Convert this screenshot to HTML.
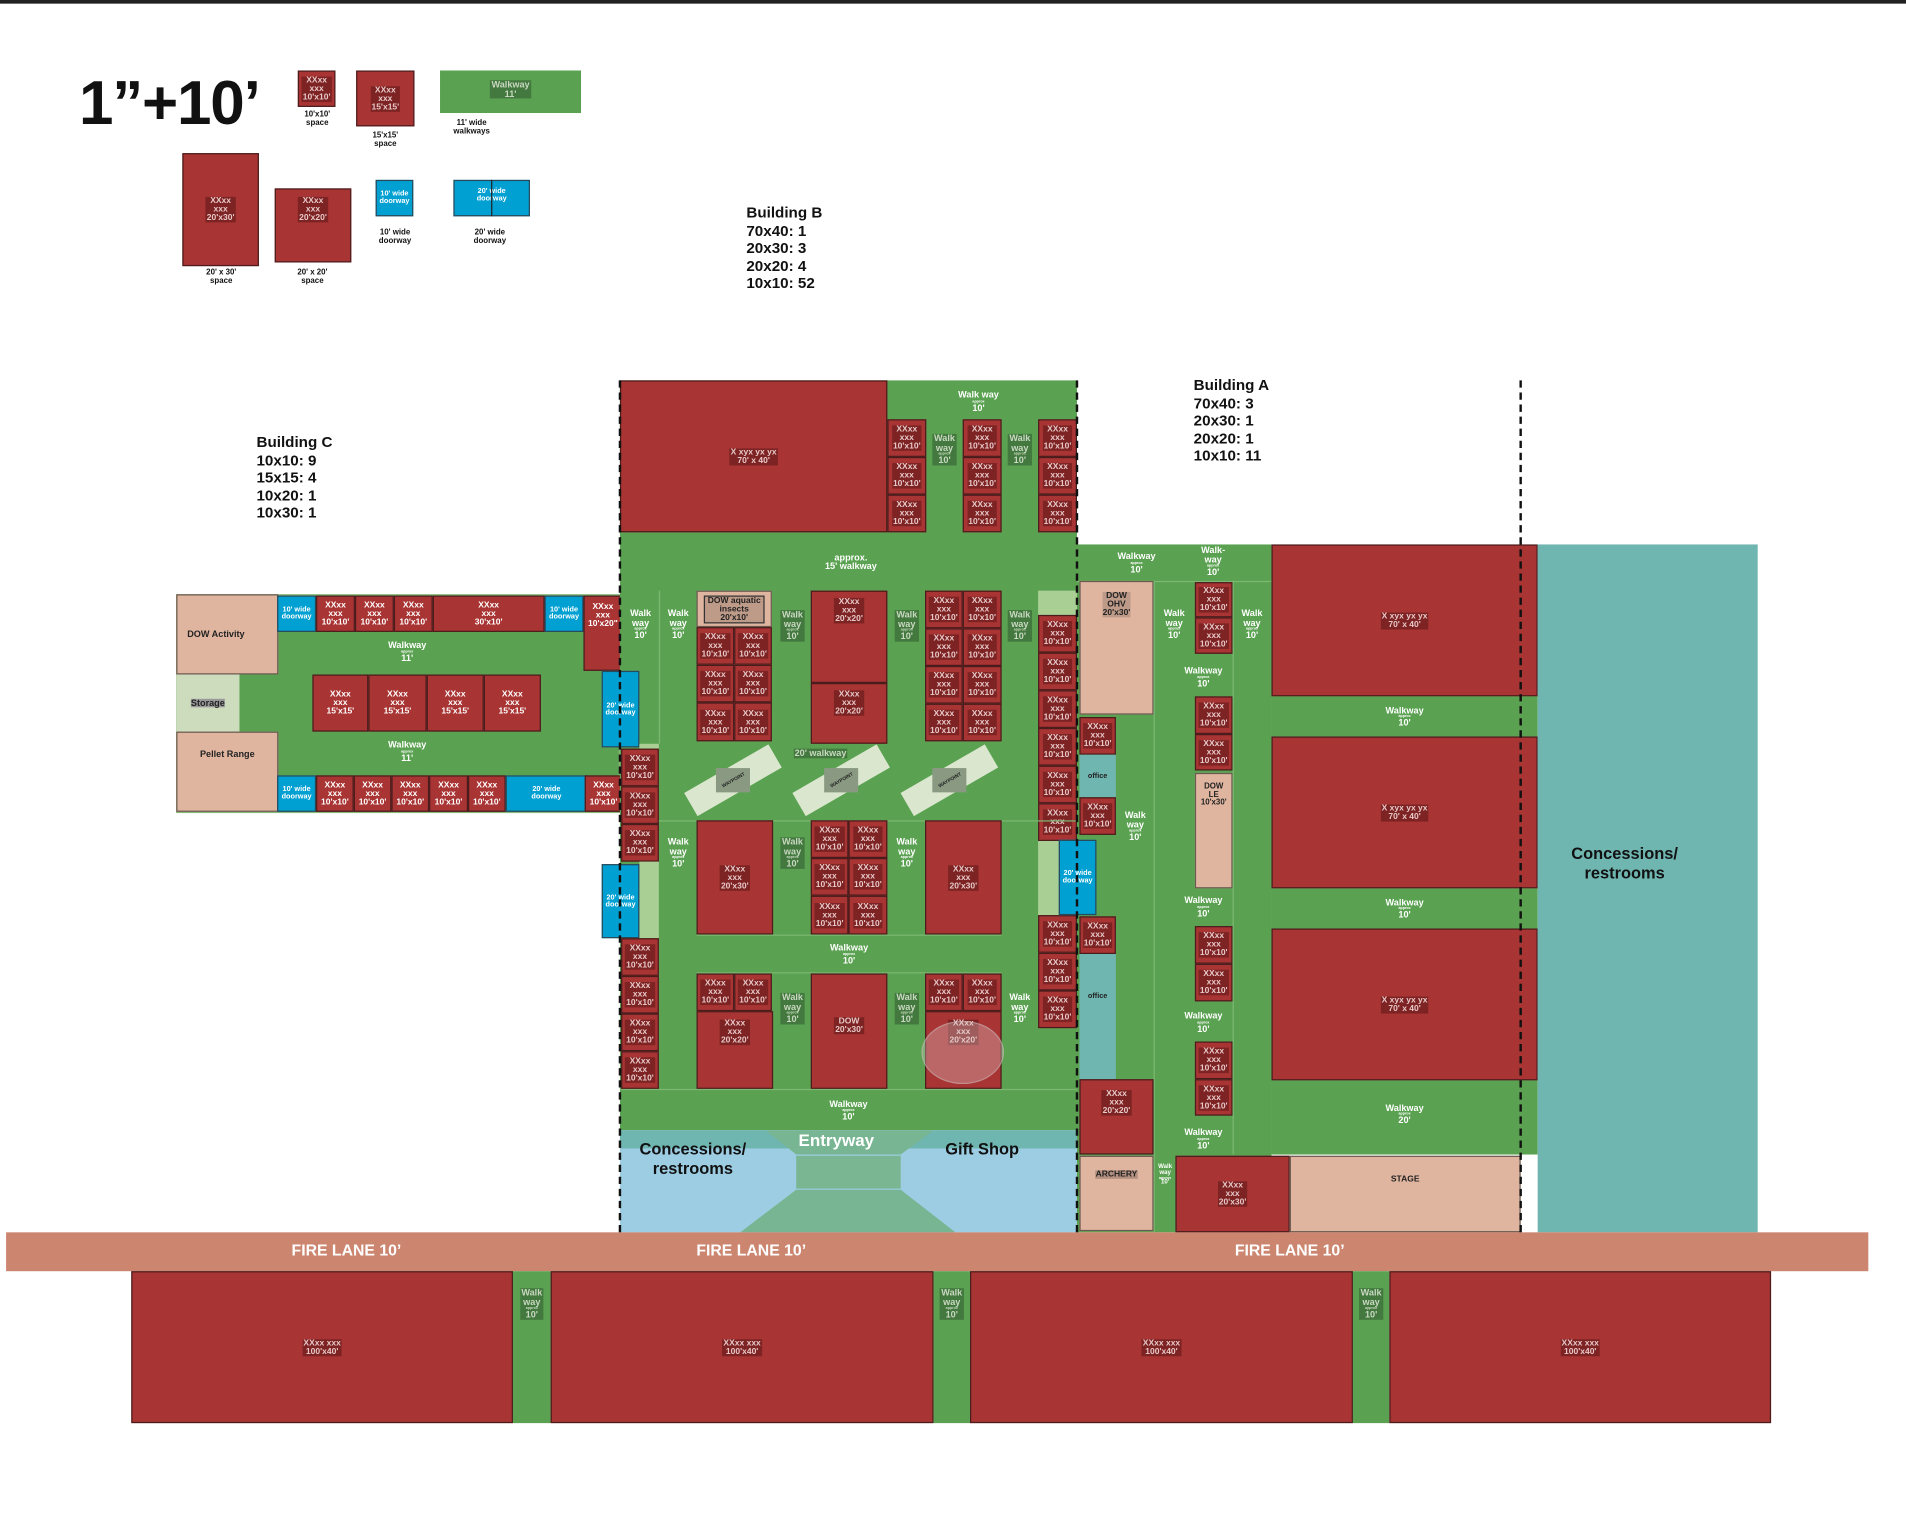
<!DOCTYPE html>
<html><head><meta charset="utf-8">
<style>
html,body{margin:0;padding:0;background:#fff;}
body{width:1906px;height:1530px;overflow:hidden;position:relative;font-family:"Liberation Sans",Arial,sans-serif;}
#s{position:absolute;left:0;top:0;width:1568px;height:1259px;transform:scale(1.21556,1.2153);transform-origin:0 0;}
.a{position:absolute;box-sizing:border-box;display:flex;flex-direction:column;align-items:center;justify-content:center;text-align:center;font-weight:bold;line-height:1;}
.g{background:#5aa251;}
.r{background:#a93434;border:1px solid #4a1c1c;}
.t{background:#e0b5a0;border:1px solid #6a5a50;color:#222;}
.b{background:#00a0d2;border:1px solid #2a4a5a;color:#fff;font-size:6px;}
.lg{background:#a9cf94;}
.tl{background:#6fb5b0;}
.k{background:rgba(70,15,15,.45);color:#e8c8c8;font-size:7px;padding:0 1px;}
.w{color:#fff;font-size:7.5px;}
.w i{font-size:3px;font-style:normal;display:block;}
.d{color:#c9d8c2;background:rgba(40,70,40,.45);font-size:7.5px;padding:0 1px;}
.d i{font-size:3px;font-style:normal;display:block;}
.x{position:absolute;font-weight:bold;color:#111;}
.dash{position:absolute;width:0;border-left:2.5px dashed #111;}
</style></head><body>
<div id="s">
<div style="position:absolute;left:0;top:0;width:1568px;height:2.5px;background:#222"></div>

<!-- legend -->
<div class="x" style="left:65px;top:55px;font-size:51px;letter-spacing:-1px">1”+10’</div>
<div class="a r" style="left:245px;top:58px;width:31px;height:30px"><span class="k">XXxx<br>xxx<br>10'x10'</span></div>
<div class="x" style="left:240px;top:91px;width:42px;text-align:center;font-size:6.5px">10'x10'<br>space</div>
<div class="a r" style="left:293px;top:58px;width:48px;height:46px"><span class="k">XXxx<br>xxx<br>15'x15'</span></div>
<div class="x" style="left:296px;top:108px;width:42px;text-align:center;font-size:6.5px">15'x15'<br>space</div>
<div class="a g" style="left:362px;top:58px;width:116px;height:35px;justify-content:flex-start;padding-top:8px"><span class="d">Walkway<br>11'</span></div>
<div class="x" style="left:362px;top:98px;width:52px;text-align:center;font-size:6.5px">11' wide<br>walkways</div>
<div class="a r" style="left:150px;top:126px;width:63px;height:93px"><span class="k">XXxx<br>xxx<br>20'x30'</span></div>
<div class="x" style="left:155px;top:221px;width:54px;text-align:center;font-size:6.5px">20' x 30'<br>space</div>
<div class="a r" style="left:226px;top:155px;width:63px;height:61px;justify-content:flex-start;padding-top:6px"><span class="k">XXxx<br>xxx<br>20'x20'</span></div>
<div class="x" style="left:230px;top:221px;width:54px;text-align:center;font-size:6.5px">20' x 20'<br>space</div>
<div class="a b" style="left:309px;top:148px;width:31px;height:30px">10' wide<br>doorway</div>
<div class="x" style="left:302px;top:188px;width:46px;text-align:center;font-size:6.5px">10' wide<br>doorway</div>
<div class="a b" style="left:373px;top:148px;width:63px;height:30px;justify-content:flex-start;padding-top:6px">20' wide<br>doorway</div>
<div style="position:absolute;left:404px;top:148px;width:1px;height:30px;background:#222"></div>
<div class="x" style="left:380px;top:188px;width:46px;text-align:center;font-size:6.5px">20' wide<br>doorway</div>

<div class="x" style="left:614px;top:168px;font-size:12.5px;line-height:14.5px">Building B<br>70x40: 1<br>20x30: 3<br>20x20: 4<br>10x10: 52</div>
<div class="x" style="left:982px;top:310px;font-size:12.5px;line-height:14.5px">Building A<br>70x40: 3<br>20x30: 1<br>20x20: 1<br>10x10: 11</div>
<div class="x" style="left:211px;top:357px;font-size:12.5px;line-height:14.5px">Building C<br>10x10: 9<br>15x15: 4<br>10x20: 1<br>10x30: 1</div>

<!-- Building C -->
<div class="a g" style="left:145px;top:489px;width:365px;height:180px;border:1px solid #8ab87a"></div>
<div class="a t" style="left:145px;top:489px;width:84px;height:66px;align-items:flex-start;padding-left:8px;font-size:7.5px">DOW Activity</div>
<div class="a lg" style="left:145px;top:555px;width:52px;height:47px;background:#cddcbc"><span style="background:#999;font-size:7.5px;color:#222">Storage</span></div>
<div class="a t" style="left:145px;top:602px;width:84px;height:66px;justify-content:flex-start;padding-top:14px;font-size:7.5px">Pellet Range</div>
<div class="a b" style="left:228px;top:490px;width:32px;height:30px">10' wide<br>doorway</div>
<div class="a r" style="left:260px;top:490px;width:32px;height:30px"><span class="k" style="background:none;color:#fff">XXxx<br>xxx<br>10'x10'</span></div>
<div class="a r" style="left:292px;top:490px;width:32px;height:30px"><span class="k" style="background:none;color:#fff">XXxx<br>xxx<br>10'x10'</span></div>
<div class="a r" style="left:324px;top:490px;width:32px;height:30px"><span class="k" style="background:none;color:#fff">XXxx<br>xxx<br>10'x10'</span></div>
<div class="a r" style="left:356px;top:490px;width:92px;height:30px"><span class="k" style="background:none;color:#fff">XXxx<br>xxx<br>30'x10'</span></div>
<div class="a b" style="left:448px;top:490px;width:32px;height:30px">10' wide<br>doorway</div>
<div class="a r" style="left:480px;top:490px;width:32px;height:62px;justify-content:flex-start;padding-top:5px"><span class="k" style="background:none;color:#fff">XXxx<br>xxx<br>10'x20"</span></div>
<div class="a w" style="left:300px;top:524px;width:70px;height:24px">Walkway<i>approx</i>11'</div>
<div class="a r" style="left:257px;top:555px;width:46px;height:47px"><span class="k" style="background:none;color:#fff">XXxx<br>xxx<br>15'x15'</span></div>
<div class="a r" style="left:303px;top:555px;width:48px;height:47px"><span class="k" style="background:none;color:#fff">XXxx<br>xxx<br>15'x15'</span></div>
<div class="a r" style="left:351px;top:555px;width:47px;height:47px"><span class="k" style="background:none;color:#fff">XXxx<br>xxx<br>15'x15'</span></div>
<div class="a r" style="left:398px;top:555px;width:47px;height:47px"><span class="k" style="background:none;color:#fff">XXxx<br>xxx<br>15'x15'</span></div>
<div class="a w" style="left:300px;top:606px;width:70px;height:24px">Walkway<i>approx</i>11'</div>
<div class="a b" style="left:228px;top:638px;width:32px;height:30px">10' wide<br>doorway</div>
<div class="a r" style="left:260px;top:638px;width:31px;height:30px"><span class="k" style="background:none;color:#fff">XXxx<br>xxx<br>10'x10'</span></div>
<div class="a r" style="left:291px;top:638px;width:31px;height:30px"><span class="k" style="background:none;color:#fff">XXxx<br>xxx<br>10'x10'</span></div>
<div class="a r" style="left:322px;top:638px;width:31px;height:30px"><span class="k" style="background:none;color:#fff">XXxx<br>xxx<br>10'x10'</span></div>
<div class="a r" style="left:353px;top:638px;width:32px;height:30px"><span class="k" style="background:none;color:#fff">XXxx<br>xxx<br>10'x10'</span></div>
<div class="a r" style="left:385px;top:638px;width:31px;height:30px"><span class="k" style="background:none;color:#fff">XXxx<br>xxx<br>10'x10'</span></div>
<div class="a b" style="left:416px;top:638px;width:67px;height:30px">20' wide<br>doorway</div>
<div class="a r" style="left:481px;top:638px;width:31px;height:30px"><span class="k" style="background:none;color:#fff">XXxx<br>xxx<br>10'x10'</span></div>

<!-- Building B -->
<div class="a g" style="left:510px;top:313px;width:376px;height:617px"></div>
<div class="a r" style="left:510px;top:313px;width:220px;height:125px"><span class="k">X xyx yx yx<br>70' x 40'</span></div>
<div class="a w" style="left:760px;top:318px;width:90px;height:24px">Walk way<i>approx</i>10'</div>
<div class="a r" style="left:730px;top:345px;width:32px;height:31px"><span class="k">XXxx<br>xxx<br>10'x10'</span></div>
<div class="a r" style="left:730px;top:376px;width:32px;height:31px"><span class="k">XXxx<br>xxx<br>10'x10'</span></div>
<div class="a r" style="left:730px;top:407px;width:32px;height:31px"><span class="k">XXxx<br>xxx<br>10'x10'</span></div>
<div class="a r" style="left:792px;top:345px;width:32px;height:31px"><span class="k">XXxx<br>xxx<br>10'x10'</span></div>
<div class="a r" style="left:792px;top:376px;width:32px;height:31px"><span class="k">XXxx<br>xxx<br>10'x10'</span></div>
<div class="a r" style="left:792px;top:407px;width:32px;height:31px"><span class="k">XXxx<br>xxx<br>10'x10'</span></div>
<div class="a r" style="left:854px;top:345px;width:32px;height:31px"><span class="k">XXxx<br>xxx<br>10'x10'</span></div>
<div class="a r" style="left:854px;top:376px;width:32px;height:31px"><span class="k">XXxx<br>xxx<br>10'x10'</span></div>
<div class="a r" style="left:854px;top:407px;width:32px;height:31px"><span class="k">XXxx<br>xxx<br>10'x10'</span></div>
<div class="a" style="left:762px;top:355px;width:30px;height:30px"><span class="d">Walk<br>way<i>approx</i>10'</span></div>
<div class="a" style="left:824px;top:355px;width:30px;height:30px"><span class="d">Walk<br>way<i>approx</i>10'</span></div>
<div class="a w" style="left:640px;top:452px;width:120px;height:20px">approx.<br>15' walkway</div>

<div style="position:absolute;left:542px;top:486px;width:1px;height:126px;background:#7cb872"></div>
<div class="a w" style="left:512px;top:500px;width:30px;height:28px">Walk<br>way<i>approx</i>10'</div>
<div class="a w" style="left:543px;top:500px;width:30px;height:28px">Walk<br>way<i>approx</i>10'</div>
<div class="a t" style="left:573px;top:486px;width:62px;height:30px;font-size:7px"><span style="border:1px solid #333;background:rgba(0,0,0,.15);padding:0 2px">DOW aquatic<br>insects<br>20'x10'</span></div>
<div class="a r" style="left:573px;top:516px;width:31px;height:31px"><span class="k">XXxx<br>xxx<br>10'x10'</span></div>
<div class="a r" style="left:604px;top:516px;width:31px;height:31px"><span class="k">XXxx<br>xxx<br>10'x10'</span></div>
<div class="a r" style="left:573px;top:547px;width:31px;height:31px"><span class="k">XXxx<br>xxx<br>10'x10'</span></div>
<div class="a r" style="left:604px;top:547px;width:31px;height:31px"><span class="k">XXxx<br>xxx<br>10'x10'</span></div>
<div class="a r" style="left:573px;top:578px;width:31px;height:32px"><span class="k">XXxx<br>xxx<br>10'x10'</span></div>
<div class="a r" style="left:604px;top:578px;width:31px;height:32px"><span class="k">XXxx<br>xxx<br>10'x10'</span></div>
<div class="a" style="left:637px;top:500px;width:30px;height:30px"><span class="d">Walk<br>way<i>approx</i>10'</span></div>
<div class="a r" style="left:667px;top:486px;width:63px;height:76px;justify-content:flex-start;padding-top:5px"><span class="k">XXxx<br>xxx<br>20'x20'</span></div>
<div class="a r" style="left:667px;top:562px;width:63px;height:50px;justify-content:flex-start;padding-top:5px"><span class="k">XXxx<br>xxx<br>20'x20'</span></div>
<div class="a" style="left:731px;top:500px;width:30px;height:30px"><span class="d">Walk<br>way<i>approx</i>10'</span></div>
<div class="a r" style="left:761px;top:486px;width:31px;height:31px"><span class="k">XXxx<br>xxx<br>10'x10'</span></div>
<div class="a r" style="left:792px;top:486px;width:32px;height:31px"><span class="k">XXxx<br>xxx<br>10'x10'</span></div>
<div class="a r" style="left:761px;top:517px;width:31px;height:31px"><span class="k">XXxx<br>xxx<br>10'x10'</span></div>
<div class="a r" style="left:792px;top:517px;width:32px;height:31px"><span class="k">XXxx<br>xxx<br>10'x10'</span></div>
<div class="a r" style="left:761px;top:548px;width:31px;height:31px"><span class="k">XXxx<br>xxx<br>10'x10'</span></div>
<div class="a r" style="left:792px;top:548px;width:32px;height:31px"><span class="k">XXxx<br>xxx<br>10'x10'</span></div>
<div class="a r" style="left:761px;top:579px;width:31px;height:31px"><span class="k">XXxx<br>xxx<br>10'x10'</span></div>
<div class="a r" style="left:792px;top:579px;width:32px;height:31px"><span class="k">XXxx<br>xxx<br>10'x10'</span></div>
<div class="a" style="left:824px;top:500px;width:30px;height:30px"><span class="d">Walk<br>way<i>approx</i>10'</span></div>
<div class="a lg" style="left:854px;top:486px;width:32px;height:20px"></div>
<div class="a r" style="left:854px;top:506px;width:32px;height:31px"><span class="k">XXxx<br>xxx<br>10'x10'</span></div>
<div class="a r" style="left:854px;top:537px;width:32px;height:31px"><span class="k">XXxx<br>xxx<br>10'x10'</span></div>
<div class="a r" style="left:854px;top:568px;width:32px;height:31px"><span class="k">XXxx<br>xxx<br>10'x10'</span></div>
<div class="a r" style="left:854px;top:599px;width:32px;height:31px"><span class="k">XXxx<br>xxx<br>10'x10'</span></div>
<div class="a r" style="left:854px;top:630px;width:32px;height:31px"><span class="k">XXxx<br>xxx<br>10'x10'</span></div>
<div class="a r" style="left:854px;top:661px;width:32px;height:31px"><span class="k">XXxx<br>xxx<br>10'x10'</span></div>
<div class="a lg" style="left:854px;top:692px;width:32px;height:61px"></div>
<div class="a r" style="left:854px;top:753px;width:32px;height:31px"><span class="k">XXxx<br>xxx<br>10'x10'</span></div>
<div class="a r" style="left:854px;top:784px;width:32px;height:31px"><span class="k">XXxx<br>xxx<br>10'x10'</span></div>
<div class="a r" style="left:854px;top:815px;width:32px;height:31px"><span class="k">XXxx<br>xxx<br>10'x10'</span></div>

<!-- left column of B -->
<div class="a b" style="left:495px;top:552px;width:31px;height:63px;font-size:6px">20' wide<br>doorway</div>
<div class="a lg" style="left:526px;top:612px;width:16px;height:4px"></div>
<div class="a r" style="left:511px;top:616px;width:31px;height:31px"><span class="k">XXxx<br>xxx<br>10'x10'</span></div>
<div class="a r" style="left:511px;top:647px;width:31px;height:31px"><span class="k">XXxx<br>xxx<br>10'x10'</span></div>
<div class="a r" style="left:511px;top:678px;width:31px;height:31px"><span class="k">XXxx<br>xxx<br>10'x10'</span></div>
<div class="a lg" style="left:526px;top:709px;width:16px;height:63px"></div>
<div class="a b" style="left:495px;top:711px;width:31px;height:61px;font-size:6px">20' wide<br>doorway</div>
<div class="a r" style="left:511px;top:772px;width:31px;height:31px"><span class="k">XXxx<br>xxx<br>10'x10'</span></div>
<div class="a r" style="left:511px;top:803px;width:31px;height:31px"><span class="k">XXxx<br>xxx<br>10'x10'</span></div>
<div class="a r" style="left:511px;top:834px;width:31px;height:31px"><span class="k">XXxx<br>xxx<br>10'x10'</span></div>
<div class="a r" style="left:511px;top:865px;width:31px;height:31px"><span class="k">XXxx<br>xxx<br>10'x10'</span></div>

<!-- waypoints -->
<div style="position:absolute;left:563px;top:631px;width:80px;height:22px;background:#dbe6cf;transform:rotate(-30deg)"></div>
<div style="position:absolute;left:652px;top:631px;width:80px;height:22px;background:#dbe6cf;transform:rotate(-30deg)"></div>
<div style="position:absolute;left:741px;top:631px;width:80px;height:22px;background:#dbe6cf;transform:rotate(-30deg)"></div>
<div class="a" style="left:589px;top:632px;width:28px;height:20px;background:#8a9a82;font-size:4px;color:#222"><span style="transform:rotate(-30deg)">WAYPOINT</span></div>
<div class="a" style="left:678px;top:632px;width:28px;height:20px;background:#8a9a82;font-size:4px;color:#222"><span style="transform:rotate(-30deg)">WAYPOINT</span></div>
<div class="a" style="left:767px;top:632px;width:28px;height:20px;background:#8a9a82;font-size:4px;color:#222"><span style="transform:rotate(-30deg)">WAYPOINT</span></div>
<div class="a" style="left:645px;top:613px;width:60px;height:14px"><span class="d">20' walkway</span></div>

<!-- lower B -->
<div style="position:absolute;left:542px;top:675px;width:344px;height:1px;background:#7cb872"></div>
<div class="a w" style="left:543px;top:688px;width:30px;height:28px">Walk<br>way<i>approx</i>10'</div>
<div class="a r" style="left:573px;top:675px;width:63px;height:94px"><span class="k">XXxx<br>xxx<br>20'x30'</span></div>
<div class="a" style="left:637px;top:688px;width:30px;height:28px"><span class="d">Walk<br>way<i>approx</i>10'</span></div>
<div class="a r" style="left:667px;top:675px;width:31px;height:31px"><span class="k">XXxx<br>xxx<br>10'x10'</span></div>
<div class="a r" style="left:698px;top:675px;width:32px;height:31px"><span class="k">XXxx<br>xxx<br>10'x10'</span></div>
<div class="a r" style="left:667px;top:706px;width:31px;height:31px"><span class="k">XXxx<br>xxx<br>10'x10'</span></div>
<div class="a r" style="left:698px;top:706px;width:32px;height:31px"><span class="k">XXxx<br>xxx<br>10'x10'</span></div>
<div class="a r" style="left:667px;top:737px;width:31px;height:32px"><span class="k">XXxx<br>xxx<br>10'x10'</span></div>
<div class="a r" style="left:698px;top:737px;width:32px;height:32px"><span class="k">XXxx<br>xxx<br>10'x10'</span></div>
<div class="a w" style="left:731px;top:688px;width:30px;height:28px">Walk<br>way<i>approx</i>10'</div>
<div class="a r" style="left:761px;top:675px;width:63px;height:94px"><span class="k">XXxx<br>xxx<br>20'x30'</span></div>
<div class="a w" style="left:573px;top:769px;width:251px;height:32px;border-top:1px solid #7cb872;border-bottom:1px solid #7cb872">Walkway<i>approx</i>10'</div>
<div class="a r" style="left:573px;top:801px;width:31px;height:31px"><span class="k">XXxx<br>xxx<br>10'x10'</span></div>
<div class="a r" style="left:604px;top:801px;width:31px;height:31px"><span class="k">XXxx<br>xxx<br>10'x10'</span></div>
<div class="a r" style="left:573px;top:832px;width:63px;height:64px;justify-content:flex-start;padding-top:6px"><span class="k">XXxx<br>xxx<br>20'x20'</span></div>
<div class="a" style="left:637px;top:816px;width:30px;height:28px"><span class="d">Walk<br>way<i>approx</i>10'</span></div>
<div class="a r" style="left:667px;top:801px;width:63px;height:95px;justify-content:flex-start;padding-top:35px"><span class="k">DOW<br>20'x30'</span></div>
<div class="a" style="left:731px;top:816px;width:30px;height:28px"><span class="d">Walk<br>way<i>approx</i>10'</span></div>
<div class="a r" style="left:761px;top:801px;width:31px;height:31px"><span class="k">XXxx<br>xxx<br>10'x10'</span></div>
<div class="a r" style="left:792px;top:801px;width:32px;height:31px"><span class="k">XXxx<br>xxx<br>10'x10'</span></div>
<div class="a r" style="left:761px;top:832px;width:63px;height:64px;justify-content:flex-start;padding-top:6px"><span class="k">XXxx<br>xxx<br>20'x20'</span></div>
<div style="position:absolute;left:758px;top:840px;width:66px;height:50px;border-radius:50%;background:rgba(220,200,200,.35);border:1px solid rgba(200,180,180,.5)"></div>
<div class="a w" style="left:824px;top:816px;width:30px;height:28px">Walk<br>way<i>approx</i>10'</div>
<div class="a w" style="left:510px;top:896px;width:376px;height:34px;border-top:1px solid #7cb872">Walkway<i>approx</i>10'</div>

<!-- entry -->
<div style="position:absolute;left:510px;top:930px;width:376px;height:84px;background:#9ccde3"></div>
<div style="position:absolute;left:510px;top:930px;width:376px;height:15px;background:#6fb5b0"></div>
<svg style="position:absolute;left:510px;top:930px" width="376" height="84">
<polygon points="120,0 258,0 231,20 145,20" fill="#78b592"/>
<rect x="145" y="21" width="86" height="27" fill="#7bb693"/>
<polygon points="145,49 231,49 276,84 99,84" fill="#78b592"/>
</svg>
<div class="x" style="left:512px;top:938px;width:116px;text-align:center;font-size:13.5px;line-height:16px">Concessions/<br>restrooms</div>
<div class="x" style="left:640px;top:930px;width:96px;text-align:center;font-size:14px;color:#fff">Entryway</div>
<div class="x" style="left:768px;top:938px;width:80px;text-align:center;font-size:13.5px">Gift Shop</div>

<!-- Building A -->
<div class="a g" style="left:886px;top:448px;width:160px;height:566px"></div>
<div class="a w" style="left:890px;top:452px;width:90px;height:22px">Walkway<i>approx</i>10'</div>
<div class="a w" style="left:968px;top:449px;width:60px;height:26px">Walk-<br>way<i>approx</i>10'</div>
<div style="position:absolute;left:886px;top:478px;width:160px;height:1px;background:#7cb872"></div>
<div class="a t" style="left:888px;top:478px;width:61px;height:110px;justify-content:flex-start;padding-top:8px;font-size:7px"><span style="background:rgba(0,0,0,.15)">DOW<br>OHV<br>20'x30'</span></div>
<div class="a w" style="left:951px;top:500px;width:30px;height:28px">Walk<br>way<i>approx</i>10'</div>
<div class="a w" style="left:1015px;top:500px;width:30px;height:28px">Walk<br>way<i>approx</i>10'</div>
<div class="a r" style="left:983px;top:479px;width:31px;height:29px"><span class="k">XXxx<br>xxx<br>10'x10'</span></div>
<div class="a r" style="left:983px;top:508px;width:31px;height:30px"><span class="k">XXxx<br>xxx<br>10'x10'</span></div>
<div class="a w" style="left:960px;top:546px;width:60px;height:22px">Walkway<i>approx</i>10'</div>
<div class="a r" style="left:983px;top:573px;width:31px;height:31px"><span class="k">XXxx<br>xxx<br>10'x10'</span></div>
<div class="a r" style="left:983px;top:604px;width:31px;height:30px"><span class="k">XXxx<br>xxx<br>10'x10'</span></div>
<div class="a t" style="left:983px;top:636px;width:31px;height:95px;justify-content:flex-start;padding-top:8px;font-size:6.5px">DOW<br>LE<br>10'x30'</div>
<div class="a w" style="left:960px;top:735px;width:60px;height:22px">Walkway<i>approx</i>10'</div>
<div class="a r" style="left:983px;top:762px;width:31px;height:31px"><span class="k">XXxx<br>xxx<br>10'x10'</span></div>
<div class="a r" style="left:983px;top:793px;width:31px;height:31px"><span class="k">XXxx<br>xxx<br>10'x10'</span></div>
<div class="a w" style="left:960px;top:830px;width:60px;height:22px">Walkway<i>approx</i>10'</div>
<div class="a r" style="left:983px;top:857px;width:31px;height:31px"><span class="k">XXxx<br>xxx<br>10'x10'</span></div>
<div class="a r" style="left:983px;top:888px;width:31px;height:30px"><span class="k">XXxx<br>xxx<br>10'x10'</span></div>
<div class="a w" style="left:960px;top:926px;width:60px;height:22px">Walkway<i>approx</i>10'</div>
<div style="position:absolute;left:949px;top:478px;width:1px;height:536px;background:#7cb872"></div>
<div style="position:absolute;left:1014px;top:478px;width:1px;height:472px;background:#7cb872"></div>
<div class="a r" style="left:888px;top:590px;width:30px;height:31px"><span class="k">XXxx<br>xxx<br>10'x10'</span></div>
<div class="a tl" style="left:888px;top:621px;width:30px;height:35px;font-size:6px;color:#222">office</div>
<div class="a r" style="left:888px;top:656px;width:30px;height:31px"><span class="k">XXxx<br>xxx<br>10'x10'</span></div>
<div class="a w" style="left:919px;top:666px;width:30px;height:28px">Walk<br>way<i>approx</i>10'</div>
<div class="a b" style="left:871px;top:691px;width:31px;height:62px;font-size:6px">20' wide<br>doorway</div>
<div class="a r" style="left:888px;top:754px;width:30px;height:31px"><span class="k">XXxx<br>xxx<br>10'x10'</span></div>
<div class="a tl" style="left:888px;top:785px;width:30px;height:103px;font-size:6px;color:#222;justify-content:flex-start;padding-top:32px">office</div>
<div class="a r" style="left:888px;top:888px;width:61px;height:62px;justify-content:flex-start;padding-top:8px"><span class="k">XXxx<br>xxx<br>20'x20'</span></div>
<div class="a t" style="left:888px;top:951px;width:61px;height:62px;justify-content:flex-start;padding-top:11px;font-size:7px"><span style="background:rgba(0,0,0,.2)">ARCHERY</span></div>
<div class="a w" style="left:950px;top:955px;width:17px;height:24px;font-size:5px">Walk<br>way<i>approx</i>10'</div>
<div class="a r" style="left:967px;top:951px;width:94px;height:63px"><span class="k">XXxx<br>xxx<br>20'x30'</span></div>
<div class="a t" style="left:1061px;top:951px;width:190px;height:63px;justify-content:flex-start;padding-top:15px;font-size:7px">STAGE</div>

<div class="a r" style="left:1046px;top:448px;width:219px;height:125px"><span class="k">X xyx yx yx<br>70' x 40'</span></div>
<div class="a g w" style="left:1046px;top:573px;width:219px;height:33px">Walkway<i>approx</i>10'</div>
<div class="a r" style="left:1046px;top:606px;width:219px;height:125px"><span class="k">X xyx yx yx<br>70' x 40'</span></div>
<div class="a g w" style="left:1046px;top:731px;width:219px;height:33px">Walkway<i>approx</i>10'</div>
<div class="a r" style="left:1046px;top:764px;width:219px;height:125px"><span class="k">X xyx yx yx<br>70' x 40'</span></div>
<div class="a g w" style="left:1046px;top:889px;width:219px;height:61px;padding-bottom:6px">Walkway<i>approx</i>20'</div>
<div class="a tl" style="left:1265px;top:448px;width:181px;height:566px;font-size:13.5px;color:#111;line-height:16px;padding-right:38px;padding-bottom:40px">Concessions/<br>restrooms</div>

<div class="dash" style="left:509px;top:313px;height:701px"></div>
<div class="dash" style="left:885px;top:313px;height:701px"></div>
<div class="dash" style="left:1250px;top:313px;height:701px"></div>

<!-- fire lane -->
<div style="position:absolute;left:5px;top:1014px;width:1532px;height:32px;background:#cc8670"></div>
<div class="x" style="left:205px;top:1021px;width:160px;text-align:center;color:#fff;font-size:13px">FIRE LANE 10’</div>
<div class="x" style="left:538px;top:1021px;width:160px;text-align:center;color:#fff;font-size:13px">FIRE LANE 10’</div>
<div class="x" style="left:981px;top:1021px;width:160px;text-align:center;color:#fff;font-size:13px">FIRE LANE 10’</div>

<div class="a r" style="left:108px;top:1046px;width:314px;height:125px"><span class="k">XXxx xxx<br>100'x40'</span></div>
<div class="a g" style="left:422px;top:1046px;width:31px;height:125px;justify-content:flex-start;padding-top:14px"><span class="d">Walk<br>way<i>approx</i>10'</span></div>
<div class="a r" style="left:453px;top:1046px;width:315px;height:125px"><span class="k">XXxx xxx<br>100'x40'</span></div>
<div class="a g" style="left:768px;top:1046px;width:30px;height:125px;justify-content:flex-start;padding-top:14px"><span class="d">Walk<br>way<i>approx</i>10'</span></div>
<div class="a r" style="left:798px;top:1046px;width:315px;height:125px"><span class="k">XXxx xxx<br>100'x40'</span></div>
<div class="a g" style="left:1113px;top:1046px;width:30px;height:125px;justify-content:flex-start;padding-top:14px"><span class="d">Walk<br>way<i>approx</i>10'</span></div>
<div class="a r" style="left:1143px;top:1046px;width:314px;height:125px"><span class="k">XXxx xxx<br>100'x40'</span></div>
</div>
</body></html>
